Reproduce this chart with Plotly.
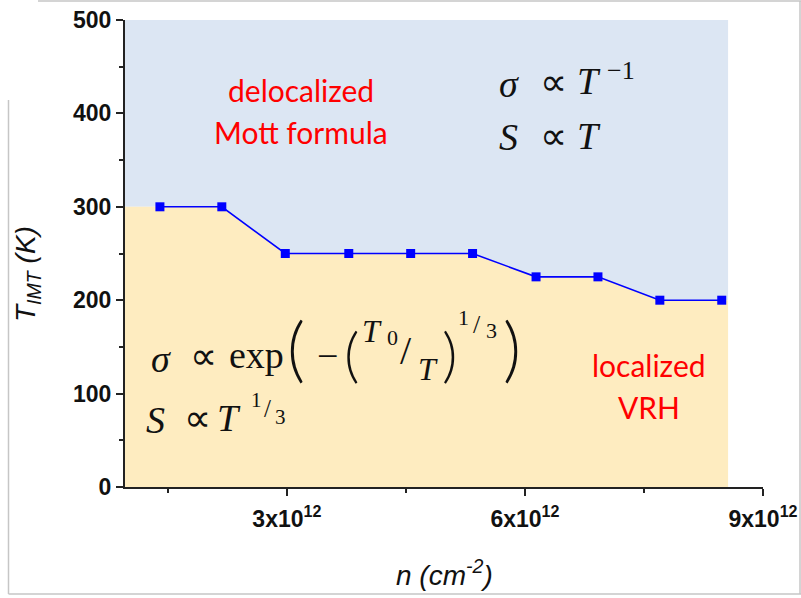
import plotly.graph_objects as go

# Carrier density (cm^-2) and insulator-metal transition temperature (K)
n_vals = [1.40e12, 2.18e12, 2.98e12, 3.78e12, 4.56e12, 5.34e12, 6.14e12, 6.92e12, 7.70e12, 8.48e12]
t_imt = [300, 300, 250, 250, 250, 250, 225, 225, 200, 200]

x_range = [0.96e12, 9.0e12]
y_range = [0, 500]
region_right = 8.56e12  # right end of the shaded phase regions

x_tickvals = [3e12, 6e12, 9e12]
x_ticktext = ["3x10<sup>12</sup>", "6x10<sup>12</sup>", "9x10<sup>12</sup>"]
x_minor = [1.5e12, 4.5e12, 7.5e12]
y_tickvals = [0, 100, 200, 300, 400, 500]
y_minor = [50, 150, 250, 350, 450]

W, H = 801, 598
L, R, T, B = 125, 38, 20, 111
PW, PH = W - L - R, H - T - B


def px(x):
    return (x - L) / PW


def py(y):
    return (H - B - y) / PH


fig = go.Figure()

# phase regions: localized below the transition line, delocalized above
edge_x = [x_range[0]] + n_vals + [region_right]
edge_y = [t_imt[0]] + t_imt + [t_imt[-1]]
fig.add_trace(go.Scatter(
    x=edge_x + [region_right, x_range[0]],
    y=edge_y + [y_range[1], y_range[1]],
    fill="toself", fillcolor="#dce6f3", line=dict(width=0),
    mode="lines", hoverinfo="skip", showlegend=False))
fig.add_trace(go.Scatter(
    x=edge_x + [region_right, x_range[0]],
    y=edge_y + [y_range[0], y_range[0]],
    fill="toself", fillcolor="#feecc0", line=dict(width=0),
    mode="lines", hoverinfo="skip", showlegend=False))

fig.add_trace(go.Scatter(
    x=n_vals, y=t_imt, mode="lines+markers",
    line=dict(color="#0000ff", width=1.6),
    marker=dict(symbol="square", size=9, color="#0000ff"),
    showlegend=False))

axis_common = dict(
    showgrid=False, zeroline=False, showline=True, linecolor="#222222", linewidth=2,
    ticks="outside", ticklen=7, tickwidth=2, tickcolor="#222222",
    tickfont=dict(family="Liberation Sans", size=23, color="#111111", weight="bold"),
    automargin=False,
)
fig.update_xaxes(
    range=x_range, tickmode="array", tickvals=x_tickvals, ticktext=x_ticktext,
    ticklabelstandoff=3,
    minor=dict(tickmode="array", tickvals=x_minor, ticklen=4, tickwidth=2,
               tickcolor="#222222", ticks="outside"),
    **axis_common)
fig.update_yaxes(
    range=y_range, tickmode="array", tickvals=y_tickvals,
    minor=dict(tickmode="array", tickvals=y_minor, ticklen=4, tickwidth=2,
               tickcolor="#222222", ticks="outside"),
    **axis_common)

ann = []


def note(text, x, y, size, family="Liberation Serif", color="#111111", angle=0, weight=None):
    font = dict(family=family, size=size, color=color)
    if weight is not None:
        font["weight"] = weight
    ann.append(dict(text=text, x=px(x), y=py(y), xref="paper", yref="paper",
                    xanchor="center", yanchor="middle", showarrow=False,
                    textangle=angle, font=font))


# axis titles
note("<i>T<sub>IMT</sub> (K)</i>", 27, 274, 28, family="Liberation Sans", angle=-90)
note("<i>n (cm<sup>-2</sup>)</i>", 444, 573, 28, family="Liberation Sans")

# region labels
red = "#ff0000"
note("delocalized", 301, 90, 30, family="Lato", color=red)
note("Mott formula", 301, 132, 30, family="Lato", color=red)
note("localized", 649, 365, 30, family="Lato", color=red)
note("VRH", 649, 407, 30, family="Lato", color=red)

# delocalized transport relations
note("<i>σ</i>", 509, 84, 38)
note("∝", 553, 82, 38)
note("<i>T</i>", 589, 81, 38)
note("−1", 621, 70, 26)
note("<i>S</i>", 508, 137, 38)
note("∝", 553, 136, 38)
note("<i>T</i>", 589, 136, 38)

# variable-range-hopping relations
note("<i>σ</i>", 161, 359, 38)
note("∝", 203, 356, 38)
note("exp", 256, 355, 38)
note("(", 296, 347, 70, family="Lato", weight=300)
note("−", 327, 356, 38)
note("(", 351, 353, 60, family="Lato", weight=300)
note("<i>T</i>", 372, 331, 32)
note("0", 392, 337, 22)
note("/", 406, 350, 40)
note("<i>T</i>", 428, 369, 32)
note(")", 449, 353, 60, family="Lato", weight=300)
note("1", 463, 318, 22)
note("/", 477, 324, 26)
note("3", 492, 330, 22)
note(")", 512, 347, 70, family="Lato", weight=300)

note("<i>S</i>", 155, 420, 38)
note("∝", 197, 418, 38)
note("<i>T</i>", 229, 418, 38)
note("1", 256, 400, 21)
note("/", 267, 408, 25)
note("3", 280, 417, 21)

# thin grey frame around the figure
frame = "#c6c6c6"
shapes = [
    dict(type="line", xref="paper", yref="paper", x0=px(38), x1=px(801), y0=py(1), y1=py(1),
         line=dict(color=frame, width=1.5)),
    dict(type="line", xref="paper", yref="paper", x0=px(8.5), x1=px(8.5), y0=py(100), y1=py(594),
         line=dict(color=frame, width=1.5)),
    dict(type="line", xref="paper", yref="paper", x0=px(8.5), x1=px(801), y0=py(594), y1=py(594),
         line=dict(color=frame, width=1.5)),
    dict(type="line", xref="paper", yref="paper", x0=px(800), x1=px(800), y0=py(1), y1=py(594),
         line=dict(color=frame, width=1.5)),
]

fig.update_layout(
    width=W, height=H,
    margin=dict(l=L, r=R, t=T, b=B),
    paper_bgcolor="white", plot_bgcolor="white",
    annotations=ann, shapes=shapes,
)

fig.write_html("out.html")
